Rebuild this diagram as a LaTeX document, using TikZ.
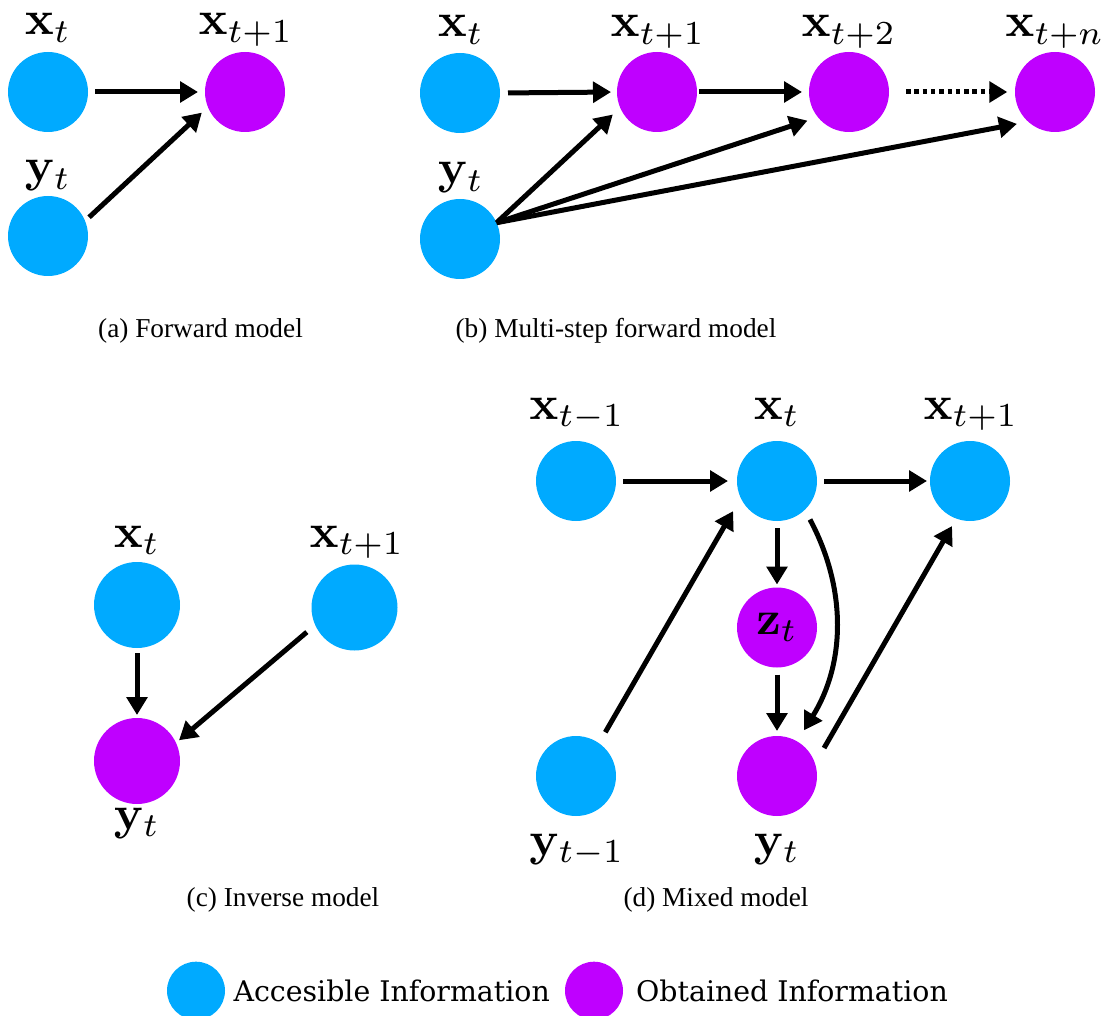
\documentclass[tikz,border=0pt]{standalone}
\usepackage[no-math]{fontspec}
\setmainfont{Liberation Serif}
\newfontfamily\legendfont{DejaVu Serif}
\usetikzlibrary{arrows.meta}
\definecolor{accblue}{RGB}{0,170,255}
\definecolor{obtmag}{RGB}{191,0,255}
% math labels are set at 10pt and enlarged to 48pt
\newcommand\mathlab[1]{\scalebox{4.8}{$#1$}}

\begin{document}
\begin{tikzpicture}[x=1pt,y=-1pt,
  acc/.style={circle, fill=accblue, inner sep=0pt, outer sep=0pt, minimum size=80pt},
  obt/.style={acc, fill=obtmag},
  bigc/.style={minimum size=86pt},
  lbl/.style={anchor=base, inner sep=0pt},
  captxt/.style={anchor=base, inner sep=0pt, font=\fontsize{27.3}{30}\selectfont},
  legtxt/.style={anchor=base west, inner sep=0pt, font=\legendfont\fontsize{28.4}{32}\selectfont},
  arr/.style={line width=5pt, -{Triangle[length=18pt,width=20.5pt]}},
  dotline/.style={dash pattern=on 4.5pt off 3.8pt}
]
\useasboundingbox (0,0) rectangle (1116,1016);

% ---------- (a) forward model ----------
\node[acc] (axt) at (48,92) {};
\node[obt] (axn) at (245,92) {};
\node[acc] (ayt) at (48,236) {};
\node[lbl] (laxt) at (48,35) {\mathlab{\mathbf{x}_t}};
\node[lbl] (laxn) at (246,35) {\mathlab{\mathbf{x}_{t+1}}};
\node[lbl] (layt) at (48,182) {\mathlab{\mathbf{y}_t}};
\draw[arr, shorten <=7pt, shorten >=7pt] (axt.east) -- (axn.west);
\draw[arr, shorten <=5.5pt, shorten >=8.3pt] (ayt.22.5) -- (axn.202.6);
\node[captxt] (capa) at (200.5,337) {(a) Forward model};

% ---------- (b) multi-step forward model ----------
\node[acc] (bxt) at (460,93) {};
\node[obt] (bx1) at (657,92) {};
\node[obt] (bx2) at (849,92) {};
\node[obt] (bxn) at (1055,92) {};
\node[acc] (byt) at (460,239) {};
\node[lbl] (lbxt) at (461,37) {\mathlab{\mathbf{x}_t}};
\node[lbl] (lbx1) at (658,37) {\mathlab{\mathbf{x}_{t+1}}};
\node[lbl] (lbx2) at (849,37) {\mathlab{\mathbf{x}_{t+2}}};
\node[lbl] (lbxn) at (1055,37) {\mathlab{\mathbf{x}_{t+n}}};
\node[lbl] (lbyt) at (461,184) {\mathlab{\mathbf{y}_t}};
\draw[arr, shorten <=8pt, shorten >=6pt] (bxt.east) -- (bx1.west);
\draw[arr, shorten <=2.3pt, shorten >=7pt] (bx1.east) -- (bx2.west);
\draw[arr, dotline, shorten <=17pt, shorten >=7.7pt] (bx2.east) -- (bxn.west);
\draw[arr, shorten >=10.1pt] (byt.24) -- (bx1.203.7);
\draw[arr, shorten >=11pt] (byt.24) -- (bx2.219.2);
\draw[arr, shorten >=11.5pt] (byt.24) -- (bxn.228.1);
\node[captxt] (capb) at (616,337) {(b) Multi-step forward model};

% ---------- (c) inverse model ----------
\node[acc, bigc] (cxt) at (137,605) {};
\node[acc, bigc] (cx1) at (354.5,607.5) {};
\node[obt, bigc] (cyt) at (137,761) {};
\node[lbl] (lcxt) at (137,547) {\mathlab{\mathbf{x}_t}};
\node[lbl] (lcx1) at (357,547) {\mathlab{\mathbf{x}_{t+1}}};
\node[lbl] (lcyt) at (137,829) {\mathlab{\mathbf{y}_t}};
\draw[arr, shorten <=5pt, shorten >=3pt] (cxt.south) -- (cyt.north);
\draw[arr, shorten <=11pt, shorten >=4pt] (cx1.204) -- (cyt.25.5);
\node[captxt] (capc) at (283,906) {(c) Inverse model};

% ---------- (d) mixed model ----------
\node[acc] (dxp) at (576,481) {};
\node[acc] (dxt) at (777,481) {};
\node[acc] (dxn) at (970,481) {};
\node[obt] (dzt) at (777,627.5) {\mathlab{\mathbf{z}_t}};
\node[acc] (dyp) at (576,776) {};
\node[obt] (dyt) at (777,776) {};
\node[lbl] (ldxp) at (577,419) {\mathlab{\mathbf{x}_{t-1}}};
\node[lbl] (ldxt) at (777,419) {\mathlab{\mathbf{x}_t}};
\node[lbl] (ldxn) at (971,419) {\mathlab{\mathbf{x}_{t+1}}};
\node[lbl] (ldyp) at (577,855) {\mathlab{\mathbf{y}_{t-1}}};
\node[lbl] (ldyt) at (777,855) {\mathlab{\mathbf{y}_t}};
\draw[arr, shorten <=7pt, shorten >=9pt] (dxp.east) -- (dxt.west);
\draw[arr, shorten <=7pt, shorten >=3pt] (dxt.east) -- (dxn.west);
\draw[arr, shorten <=7pt, shorten >=3pt] (dxt.south) -- (dzt.north);
\draw[arr, shorten <=7pt, shorten >=5pt] (dzt.south) -- (dyt.north);
\draw[arr, shorten <=12.7pt, shorten >=15.3pt] (dyp.55.6) -- (dxt.205);
\draw[arr, shorten <=18pt, shorten >=8.6pt] (dyt.18) -- (dxn.250);
\draw[arr, shorten <=11pt, shorten >=13pt] (dxt.-46.6) to[bend left=30] (dyt.60.5);
\node[captxt] (capd) at (716,906) {(d) Mixed model};

% ---------- legend ----------
\node[acc, minimum size=58pt] (lgacc) at (196,990.7) {};
\node[legtxt] (lgacct) at (233.3,1001.7) {Accesible Information};
\node[obt, minimum size=58pt] (lgobt) at (594,990.7) {};
\node[legtxt] (lgobtt) at (636,1001.7) {Obtained Information};
\end{tikzpicture}
\end{document}
